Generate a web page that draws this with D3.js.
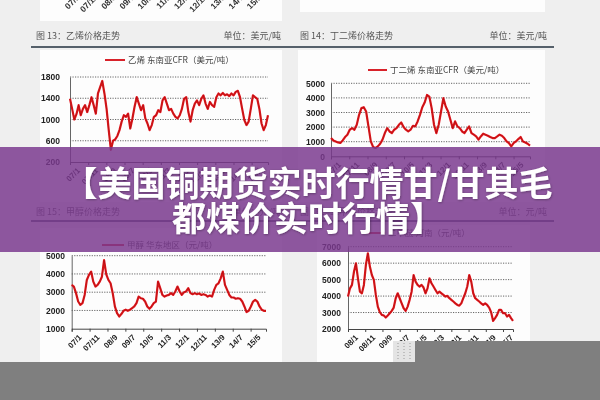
<!DOCTYPE html>
<html><head><meta charset="utf-8">
<script src="https://cdn.jsdelivr.net/npm/d3@7"></script>
<style>html,body{margin:0;padding:0;background:#eeeeee;} svg{display:block}</style>
</head><body>
<svg id="c" width="600" height="400"></svg>
<script>
// ---- data ----
const ethyleneValues = [1390,1200,1000,1100,1270,1080,1200,1270,1140,1270,1420,1270,1110,1490,1610,1725,1490,1200,800,430,600,625,690,800,960,1080,1050,1110,830,1020,1240,1420,1300,1175,1270,1020,925,800,895,1050,1080,1175,1140,1360,1420,1300,1175,1200,1110,1050,1020,1080,1200,1390,1420,1140,960,1175,1300,1360,1270,1390,1455,1300,1200,1330,1270,1240,1420,1490,1455,1500,1455,1475,1440,1490,1455,1520,1540,1420,1200,990,895,960,1200,1455,1420,1390,1200,925,800,895,1080];
const butadieneValues = [1250,1090,1020,950,910,1090,1320,1480,1820,1930,1820,2160,2840,3300,3360,3070,2050,1020,640,570,680,860,1140,1590,1930,1700,1590,1820,1930,2160,2320,2000,1820,1700,1820,2090,2050,2390,2840,3360,3680,4200,4090,3300,2160,1590,2160,3070,3980,3410,3070,2500,1930,2390,2050,1930,1700,1590,1820,2050,1590,1480,1360,1140,1360,1550,1480,1410,1320,1250,1250,1360,1480,1410,1250,1020,910,680,910,1020,1180,1320,1020,950,860,730];
const methanolValues = [3400,3310,2950,2490,2310,2400,2850,3670,3950,4130,3580,3310,3400,3580,3850,4760,3980,3670,3490,2950,2220,1850,1670,1800,1980,2040,1980,2040,2130,2220,2400,2760,2670,2640,2490,2220,2090,2220,2400,2490,3580,3220,2850,2760,2820,2850,2950,2850,3040,3310,3040,2850,3000,3040,3220,2950,2890,2950,2890,2930,2850,2890,2850,2760,2820,2760,3130,3400,3490,3760,4130,3400,3130,2850,2710,2710,2640,2670,2640,2490,2220,1910,1980,2220,2490,2580,2490,2220,2040,1980,1980];
const dmeValues = [3970,4470,4680,5480,5990,5080,4270,4170,4680,5890,6600,5790,5280,4980,4070,3360,3020,2860,2820,2700,2820,2960,3100,3300,3870,4170,3870,3560,3260,3100,3360,3770,4270,5280,4880,4680,4580,4680,4520,4170,4470,5080,4780,4580,4370,4170,4270,4170,4070,3970,4010,3870,3770,3670,3560,3460,3420,3560,3870,4170,4580,5280,4880,4170,3870,3770,3670,3560,3460,3560,3460,3300,3020,2490,2660,2860,3160,3160,2960,2960,2760,2860,2660,2490];

const dateLabelsA = ["07/1","07/11","08/9","09/7","10/5","11/3","12/1","12/11","13/9","14/7","15/5"];
const dateLabelsB = ["08/1","08/11","09/9","10/7","11/5","12/3","13/1","13/11","14/9","15/7"];
const ethyleneTicks = [200,600,1000,1400,1800];
const butadieneTicks = [0,1000,2000,3000,4000,5000];
const methanolTicks = [1000,2000,3000,4000,5000];
const dmeTicks = [2000,3000,4000,5000,6000,7000];

const chartTitles = ["图 13：乙烯价格走势","图 14：丁二烯价格走势","图 15：甲醇价格走势","图 16：二甲醚价格走势"];
const unitLabels = ["单位：美元/吨","单位：美元/吨","单位：元/吨","单位：元/吨"];
const legendLabels = ["乙烯 东南亚CFR（美元/吨）","丁二烯 东南亚CFR（美元/吨）","甲醇 华东地区（元/吨）","二甲醚 河南（元/吨）"];
const bannerLines = ["【美国铜期货实时行情甘/甘其毛","都煤价实时行情】"];

// ---- drawing ----
const svg = d3.select("#c");
const defs = svg.append("defs");
defs.append("filter").attr("id","soft").append("feGaussianBlur").attr("stdDeviation",0.45);
const sh = defs.append("filter").attr("id","tshadow").attr("x","-5%").attr("y","-20%").attr("width","110%").attr("height","140%");
sh.append("feDropShadow").attr("dx",0.6).attr("dy",0.8).attr("stdDeviation",0.8).attr("flood-color","#000").attr("flood-opacity",0.35);

svg.append("rect").attr("width",600).attr("height",400).attr("fill","#efefef");
const layer = svg.append("g").attr("filter","url(#soft)");

const numFont = "'Liberation Sans', Arial, sans-serif";
const cjkFont = "'Noto Sans CJK SC', 'Noto Sans', sans-serif";
const fmt = d3.format("d");

// remnants of the previous row (top strip)
layer.append("rect").attr("x",40).attr("y",-2).attr("width",242).attr("height",23).attr("fill","#fdfdfd");
layer.append("rect").attr("x",300).attr("y",-2).attr("width",245).attr("height",14).attr("fill","#fdfdfd");
const stripX = d3.scalePoint().domain(dateLabelsA).range([80, 262]);
layer.selectAll(".strip").data(dateLabelsA).join("text")
  .attr("transform", d => `translate(${stripX(d)},-2) rotate(-45)`)
  .attr("text-anchor","end").attr("font-family",numFont).attr("font-weight","bold")
  .attr("font-size",8.5).attr("fill","#333").text(d => d);

// section headers
function header(y, ruleY, tA, uA, tB, uB) {
  layer.append("text").attr("x",36).attr("y",y).attr("font-family",cjkFont).attr("font-size",9).attr("fill","#555").text(tA);
  layer.append("text").attr("x",281).attr("y",y).attr("text-anchor","end").attr("font-family",cjkFont).attr("font-size",9).attr("fill","#555").text(uA);
  layer.append("text").attr("x",300).attr("y",y).attr("font-family",cjkFont).attr("font-size",9).attr("fill","#555").text(tB);
  layer.append("text").attr("x",547).attr("y",y).attr("text-anchor","end").attr("font-family",cjkFont).attr("font-size",9).attr("fill","#555").text(uB);
  layer.append("line").attr("x1",31).attr("x2",554).attr("y1",ruleY).attr("y2",ruleY).attr("stroke","#55606b").attr("stroke-width",2);
}
header(39, 47, chartTitles[0], unitLabels[0], chartTitles[1], unitLabels[1]);
header(215, 221, chartTitles[2], unitLabels[2], chartTitles[3], unitLabels[3]);

function drawChart(cfg) {
  const g = layer.append("g");
  g.append("rect").attr("x",cfg.panel[0]).attr("y",cfg.panel[1]).attr("width",cfg.panel[2]).attr("height",cfg.panel[3]).attr("fill","#fdfdfd");
  const y = d3.scaleLinear().domain(cfg.domain).range([cfg.yB, cfg.yT]);
  const xi = d3.scaleLinear().domain([0, cfg.values.length-1]).range([cfg.xL, cfg.xR]);
  const xm = d3.scaleLinear().domain([0, cfg.span]).range([cfg.xL, cfg.xR]);
  // grid
  g.selectAll(".grid").data(cfg.ticks.slice(1)).join("line")
    .attr("x1",cfg.xL).attr("x2",cfg.xR).attr("y1",d=>y(d)).attr("y2",d=>y(d))
    .attr("stroke","#666").attr("stroke-width",1).attr("stroke-dasharray","1.2,1.3");
  // y axis
  const ya = g.append("g").attr("transform",`translate(${cfg.xL},0)`)
    .call(d3.axisLeft(y).tickValues(cfg.ticks).tickFormat(fmt).tickSize(0).tickPadding(cfg.xL - cfg.labR));
  ya.select(".domain").attr("stroke","#666");
  ya.selectAll("text").attr("font-family",numFont).attr("font-weight","bold").attr("font-size",8.5).attr("fill","#222");
  // x axis
  const tickMonths = cfg.labels.map((d,i)=>i*10);
  const xa = g.append("g").attr("transform",`translate(0,${cfg.yB})`)
    .call(d3.axisBottom(xm).tickValues(tickMonths).tickSize(3).tickFormat((d,i)=>cfg.labels[i]));
  xa.select(".domain").attr("stroke","#444");
  xa.selectAll("line").attr("stroke","#444");
  xa.selectAll("text").attr("font-family",numFont).attr("font-weight","bold").attr("font-size",8).attr("fill","#222")
    .attr("text-anchor","end").attr("transform","translate(3,2) rotate(-45)").attr("dy","0.5em");
  // line
  const line = d3.line().x((d,i)=>xi(i)).y(d=>y(d));
  g.append("path").datum(cfg.values).attr("d",line).attr("fill","none").attr("stroke","#e3141c").attr("stroke-width",2.2).attr("stroke-linejoin","round");
  g.append("path").datum(cfg.values).attr("d",line).attr("fill","none").attr("stroke","#7a0d10").attr("stroke-width",0.7).attr("stroke-opacity",0.5);
  // legend
  g.append("line").attr("x1",cfg.leg[0]).attr("x2",cfg.leg[1]).attr("y1",cfg.leg[2]).attr("y2",cfg.leg[2]).attr("stroke","#d8202a").attr("stroke-width",2);
  g.append("text").attr("x",cfg.leg[1]+3).attr("y",cfg.leg[2]).attr("dy","0.35em").attr("font-family",cjkFont).attr("font-size",8.5).attr("fill","#444").text(cfg.legend);
}

drawChart({panel:[40,50,242,152], values:ethyleneValues, domain:[200,1800], ticks:ethyleneTicks, xL:70, xR:268, yT:77, yB:162, labR:60, span:109, labels:dateLabelsA, leg:[105,125,60], legend:legendLabels[0]});
drawChart({panel:[298,50,247,152], values:butadieneValues, domain:[0,5000], ticks:butadieneTicks, xL:331, xR:530, yT:83.3, yB:156.3, labR:325, span:109, labels:dateLabelsA, leg:[368,387,70], legend:legendLabels[1]});
drawChart({panel:[40,228,242,134], values:methanolValues, domain:[1000,5000], ticks:methanolTicks, xL:71.7, xR:266, yT:255.7, yB:328.7, labR:65, span:108.6, labels:dateLabelsA, leg:[102,124,245], legend:legendLabels[2]});
drawChart({panel:[317,225,213,137], values:dmeValues, domain:[2000,7000], ticks:dmeTicks, xL:348, xR:513, yT:246.7, yB:329, labR:341, span:95.8, labels:dateLabelsB, leg:[362,385,233], legend:legendLabels[3]});

// gray covers at the bottom
svg.append("rect").attr("x",0).attr("y",362).attr("width",600).attr("height",38).attr("fill","#7f7f7f");
svg.append("rect").attr("x",415).attr("y",341).attr("width",185).attr("height",22).attr("fill","#7f7f7f");
svg.append("rect").attr("x",393).attr("y",341).attr("width",22).attr("height",21).attr("fill","#e4e4e4");
[398,404,410].forEach(xx => svg.append("line").attr("x1",xx).attr("x2",xx).attr("y1",343).attr("y2",361).attr("stroke","#9a9a9a").attr("stroke-dasharray","1,2"));

// banner
svg.append("rect").attr("x",0).attr("y",147).attr("width",600).attr("height",105).attr("fill","rgb(122,56,142)").attr("fill-opacity",0.84);
svg.selectAll(".bn").data(bannerLines).join("text")
  .attr("x",308).attr("y",(d,i)=>196 + i*35).attr("text-anchor","middle")
  .attr("font-family",cjkFont).attr("font-weight","bold").attr("font-size",34).attr("fill","#ffffff")
  .attr("filter","url(#tshadow)").text(d=>d);
</script>
</body></html>
